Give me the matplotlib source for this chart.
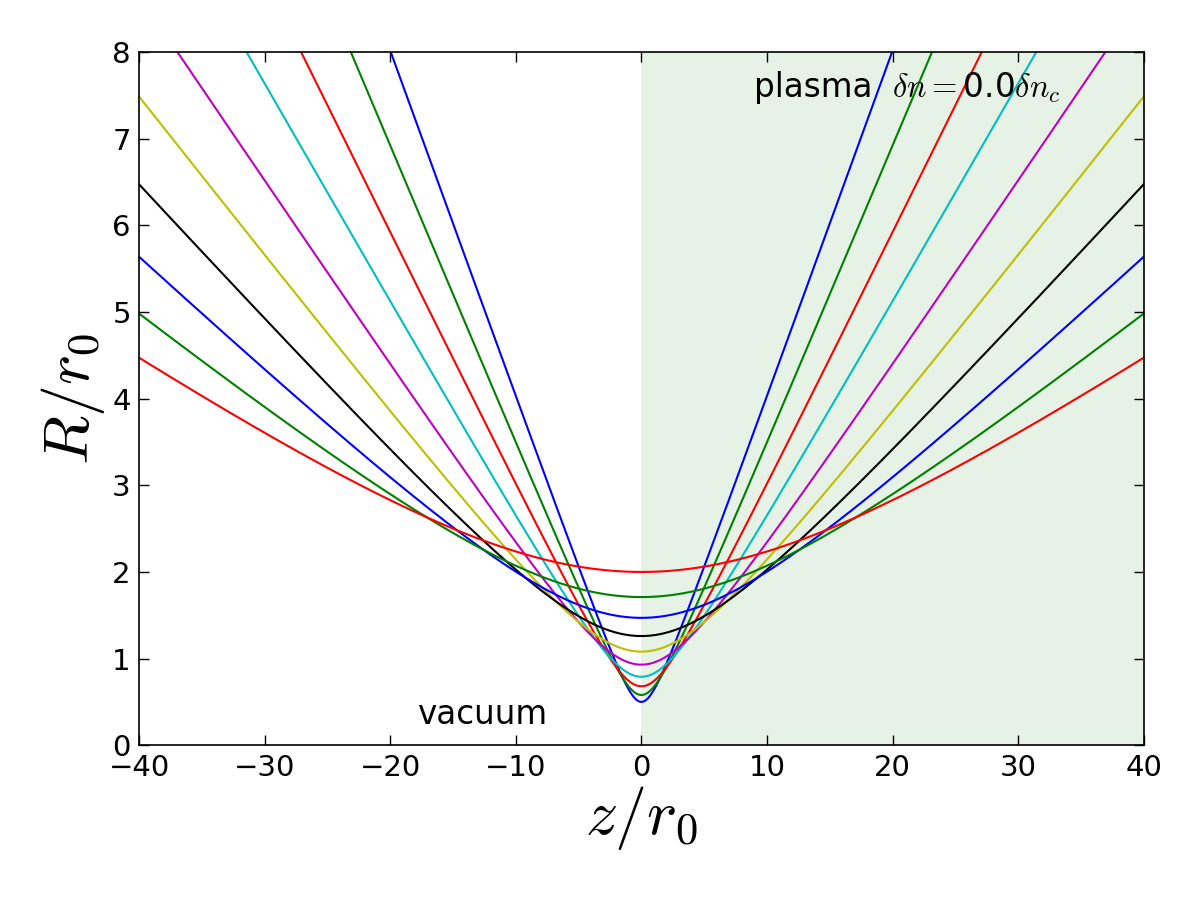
import numpy as np
import matplotlib.pyplot as plt

plt.rcParams['mathtext.fontset'] = 'cm'

# beam waists at z=0 (R/r0)
waists = [0.50, 0.58, 0.68, 0.79, 0.93, 1.08, 1.26, 1.47, 1.71, 2.00]
colors = ['b', 'g', 'r', 'c', 'm', 'y', 'k', 'b', 'g', 'r']
# far-field divergence constant: slope = div / w0 (blue reaches 8 at z=20)
div = 0.2

z = np.linspace(-40, 40, 801)

fig = plt.figure(figsize=(12, 9), dpi=100)
ax = fig.add_axes([0.116, 0.172, 0.837, 0.770])

ax.axvspan(0, 40, color='g', alpha=0.1, lw=0)
for w0, c in zip(waists, colors):
    R = w0 * np.sqrt(1 + (z * div / w0**2)**2)
    ax.plot(z, R, color=c, lw=1.5)

ax.set_xlim(-40, 40)
ax.set_ylim(0, 8)
ax.set_xticks(np.arange(-40, 41, 10))
ax.set_yticks(np.arange(0, 9, 1))
ax.tick_params(direction='in', top=True, right=True, length=7, width=1,
               labelsize=21, pad=6)
for s in ax.spines.values():
    s.set_linewidth(1.2)

ax.set_xlabel(r'$z/r_0$', fontsize=46, labelpad=2)
ax.set_ylabel(r'$R/r_0$', fontsize=46)

ax.text(9.0, 7.48, 'plasma', fontsize=23.5, va='baseline')
ax.text(20.0, 7.48, r'$\delta n=$' + '0.0' + r'$\delta n_c$', fontsize=23.5,
        va='baseline', ha='left')
ax.text(-17.9, 0.24, 'vacuum', fontsize=23.5, va='baseline')

fig.savefig('out.png')
